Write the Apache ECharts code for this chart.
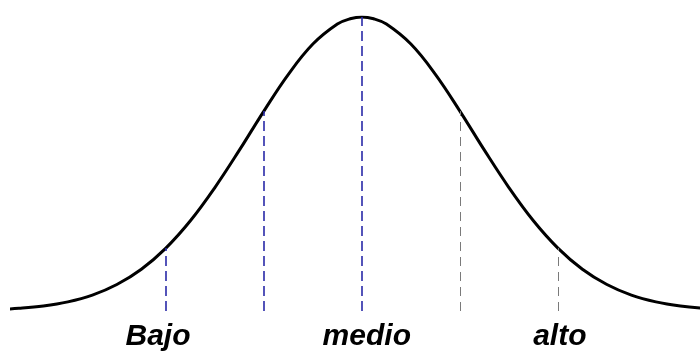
<!DOCTYPE html>
<html>
<head>
<meta charset="utf-8">
<script src="https://cdn.jsdelivr.net/npm/echarts@6/dist/echarts.min.js"></script>
<style>
  html, body { margin: 0; padding: 0; background: #fff; }
  #chart { width: 700px; height: 354px; }
</style>
</head>
<body>
<div id="chart"></div>
<script>
// curva (x en unidades de las líneas guía, altura en % del pico)
const curveX = [-3.75, -3.5, -3.25, -3, -2.75, -2.5, -2.25, -2, -1.75, -1.5, -1.25, -1, -0.75, -0.5, -0.25, -0.12,
  0, 0.12, 0.25, 0.5, 0.75, 1, 1.25, 1.5, 1.75, 2, 2.25, 2.5, 2.75, 3, 3.25, 3.5, 3.75];
const curveY = [0.4, 0.9, 1.7, 3.1, 5.4, 9.0, 14.2, 21.4, 30.7, 42.0, 54.7, 68.0, 80.5, 90.8, 97.6, 99.4,
  100, 99.4, 97.6, 90.8, 80.5, 68.0, 54.7, 42.0, 30.7, 21.4, 14.2, 9.0, 5.4, 3.1, 1.7, 0.9, 0.4];

// líneas guía verticales
const guideX = [-2, -1, 0, 1, 2];
const guideTop = [21.4, 68.0, 100, 68.0, 21.4];
const guideBlue = [true, true, true, false, false];

// etiquetas
const labelText = ['Bajo', 'medio', 'alto'];
const labelX = [-2.08, 0.05, 2.02];

const chart = echarts.init(document.getElementById('chart'));

const guides = guideX.map((x, i) => [
  {
    coord: [x, 0],
    lineStyle: guideBlue[i]
      ? { color: '#2a2aa8', width: 1.6, type: [10, 5], opacity: 1 }
      : { color: '#7a7a7a', width: 1, type: [9, 6], opacity: 1 }
  },
  { coord: [x, guideTop[i]] }
]);

chart.setOption({
  animation: false,
  backgroundColor: '#fff',
  grid: { left: 12, right: 0, top: 17, bottom: 43 },
  xAxis: {
    type: 'value', min: -3.57, max: 3.45,
    show: false
  },
  yAxis: {
    type: 'value', min: 0, max: 100,
    show: false
  },
  series: [
    {
      type: 'line',
      data: curveX.map((x, i) => [x, curveY[i]]),
      smooth: 0.4,
      showSymbol: false,
      clip: true,
      lineStyle: { color: '#000', width: 3 },
      z: 3,
      markLine: {
        silent: true,
        symbol: 'none',
        label: { show: false },
        data: guides
      }
    },
    {
      type: 'scatter',
      symbolSize: 0,
      itemStyle: { opacity: 1 },
      data: labelX.map((x, i) => [x, 0, labelText[i]]),
      label: {
        show: true,
        position: 'bottom',
        distance: 11,
        formatter: (p) => p.value[2],
        fontFamily: 'Liberation Sans',
        fontSize: 30,
        fontWeight: 'bold',
        fontStyle: 'italic',
        color: '#000',
        opacity: 1
      }
    }
  ]
});
</script>
</body>
</html>
